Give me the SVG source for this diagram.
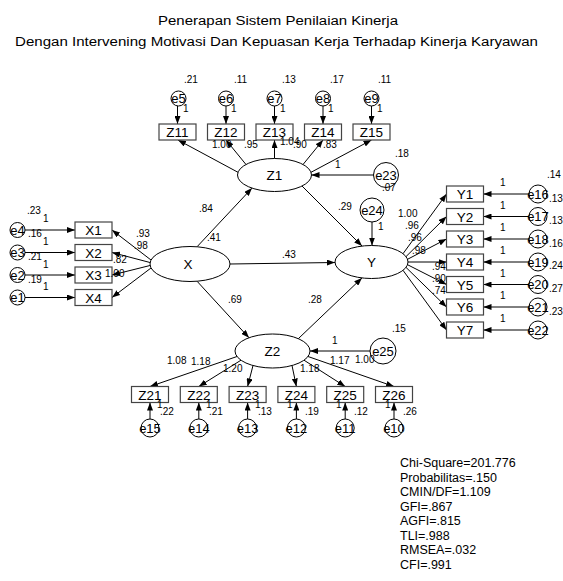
<svg xmlns="http://www.w3.org/2000/svg" width="563" height="581" viewBox="0 0 563 581">
<defs>
<marker id="ah" viewBox="0 0 8 6" refX="8" refY="3" markerWidth="8" markerHeight="6" markerUnits="userSpaceOnUse" orient="auto"><path d="M0,0 L8,3 L0,6 z" fill="#000"/></marker>
</defs>
<style>
text{font-family:"Liberation Sans",Arial,sans-serif;fill:#000}
.t{font-size:12.5px;text-anchor:middle}
.n{font-size:13.5px;text-anchor:middle}
.e{font-size:13px;text-anchor:middle}
.v{font-size:10px}
.s{font-size:12.5px}
.box{fill:#fff;stroke:#444;stroke-width:1.2}
.ell{fill:#fff;stroke:#000;stroke-width:1}
.err{fill:none;stroke:#000;stroke-width:1}
#connectors line{stroke:#000;stroke-width:1;marker-end:url(#ah)}
</style>
<rect width="563" height="581" fill="#fff"/>
<g id="title">
<text class="t" x="278" y="25" textLength="240" lengthAdjust="spacingAndGlyphs">Penerapan Sistem Penilaian Kinerja</text>
<text class="t" x="276.5" y="46" textLength="523" lengthAdjust="spacingAndGlyphs">Dengan Intervening Motivasi Dan Kepuasan Kerja Terhadap Kinerja Karyawan</text>
</g>
<g id="connectors">
<line x1="197" y1="246.8" x2="252" y2="188.1"/>
<line x1="230" y1="264" x2="335" y2="262.5"/>
<line x1="197" y1="281.2" x2="249" y2="337.8"/>
<line x1="302" y1="186" x2="362" y2="246"/>
<line x1="298.3" y1="338.7" x2="362" y2="277.9"/>
<line x1="373.5" y1="175" x2="311.5" y2="175"/>
<line x1="372" y1="222" x2="372" y2="245.5"/>
<line x1="370" y1="351" x2="310" y2="351"/>
<line x1="238" y1="172.3" x2="178" y2="140"/>
<line x1="246" y1="164.5" x2="226" y2="140"/>
<line x1="274.5" y1="158.5" x2="274.5" y2="140"/>
<line x1="303" y1="164.5" x2="323" y2="140"/>
<line x1="311" y1="172.3" x2="371.5" y2="140"/>
<line x1="177.5" y1="106" x2="177.5" y2="124"/>
<line x1="226" y1="106" x2="226" y2="124"/>
<line x1="274.5" y1="106" x2="274.5" y2="124"/>
<line x1="323" y1="106" x2="323" y2="124"/>
<line x1="371.5" y1="106" x2="371.5" y2="124"/>
<line x1="151" y1="260" x2="112" y2="230"/>
<line x1="150" y1="262.5" x2="112" y2="252.5"/>
<line x1="150" y1="265.5" x2="112" y2="275"/>
<line x1="151" y1="268" x2="112" y2="297.5"/>
<line x1="25" y1="230" x2="75" y2="230"/>
<line x1="25" y1="252.5" x2="75" y2="252.5"/>
<line x1="25" y1="275" x2="75" y2="275"/>
<line x1="25" y1="297.5" x2="75" y2="297.5"/>
<line x1="403" y1="253.7" x2="446.5" y2="194"/>
<line x1="406" y1="256.6" x2="446.5" y2="216.5"/>
<line x1="407.5" y1="259.3" x2="446.5" y2="239"/>
<line x1="408" y1="262" x2="446.5" y2="262"/>
<line x1="407.5" y1="264.7" x2="446.5" y2="284.5"/>
<line x1="406" y1="267.4" x2="446.5" y2="307"/>
<line x1="403" y1="270.3" x2="446.5" y2="330"/>
<line x1="529" y1="194" x2="483.5" y2="194"/>
<line x1="529" y1="216.5" x2="483.5" y2="216.5"/>
<line x1="529" y1="239" x2="483.5" y2="239"/>
<line x1="529" y1="262" x2="483.5" y2="262"/>
<line x1="529" y1="284.5" x2="483.5" y2="284.5"/>
<line x1="529" y1="307" x2="483.5" y2="307"/>
<line x1="529" y1="330" x2="483.5" y2="330"/>
<line x1="237" y1="356.5" x2="150" y2="386.5"/>
<line x1="241" y1="360.2" x2="198.8" y2="386.5"/>
<line x1="253" y1="365.5" x2="247.6" y2="386.5"/>
<line x1="292" y1="365.5" x2="296.4" y2="386.5"/>
<line x1="304" y1="360.2" x2="345.2" y2="386.5"/>
<line x1="308" y1="356.5" x2="394" y2="386.5"/>
<line x1="150" y1="419" x2="150" y2="402.5"/>
<line x1="198.8" y1="419" x2="198.8" y2="402.5"/>
<line x1="247.6" y1="419" x2="247.6" y2="402.5"/>
<line x1="296.4" y1="419" x2="296.4" y2="402.5"/>
<line x1="345.2" y1="419" x2="345.2" y2="402.5"/>
<line x1="394" y1="419" x2="394" y2="402.5"/>
</g>
<g id="X"><ellipse class="ell" cx="190" cy="264" rx="40" ry="17.5"/><text class="n" x="188" y="269">X</text></g>
<g id="Z1"><ellipse class="ell" cx="274.5" cy="175" rx="37" ry="16.5"/><text class="n" x="274.5" y="180">Z1</text></g>
<g id="Z2"><ellipse class="ell" cx="272.5" cy="351" rx="37.5" ry="17"/><text class="n" x="272.5" y="356">Z2</text></g>
<g id="Y"><ellipse class="ell" cx="371.5" cy="262" rx="36.5" ry="16.5"/><text class="n" x="371.5" y="267">Y</text></g>
<g id="Z11"><rect class="box" x="159" y="124" width="37" height="16"/><text class="n" x="177.5" y="137">Z11</text></g>
<g id="Z12"><rect class="box" x="207.5" y="124" width="37" height="16"/><text class="n" x="226" y="137">Z12</text></g>
<g id="Z13"><rect class="box" x="256" y="124" width="37" height="16"/><text class="n" x="274.5" y="137">Z13</text></g>
<g id="Z14"><rect class="box" x="304.5" y="124" width="37" height="16"/><text class="n" x="323" y="137">Z14</text></g>
<g id="Z15"><rect class="box" x="353" y="124" width="37" height="16"/><text class="n" x="371.5" y="137">Z15</text></g>
<g id="X1"><rect class="box" x="75" y="222" width="37" height="16"/><text class="n" x="93.5" y="235">X1</text></g>
<g id="X2"><rect class="box" x="75" y="244.5" width="37" height="16"/><text class="n" x="93.5" y="257.5">X2</text></g>
<g id="X3"><rect class="box" x="75" y="267" width="37" height="16"/><text class="n" x="93.5" y="280">X3</text></g>
<g id="X4"><rect class="box" x="75" y="289.5" width="37" height="16"/><text class="n" x="93.5" y="302.5">X4</text></g>
<g id="Y1"><rect class="box" x="446.5" y="186" width="37" height="16"/><text class="n" x="465" y="199">Y1</text></g>
<g id="Y2"><rect class="box" x="446.5" y="208.5" width="37" height="16"/><text class="n" x="465" y="221.5">Y2</text></g>
<g id="Y3"><rect class="box" x="446.5" y="231" width="37" height="16"/><text class="n" x="465" y="244">Y3</text></g>
<g id="Y4"><rect class="box" x="446.5" y="254" width="37" height="16"/><text class="n" x="465" y="267">Y4</text></g>
<g id="Y5"><rect class="box" x="446.5" y="276.5" width="37" height="16"/><text class="n" x="465" y="289.5">Y5</text></g>
<g id="Y6"><rect class="box" x="446.5" y="299" width="37" height="16"/><text class="n" x="465" y="312">Y6</text></g>
<g id="Y7"><rect class="box" x="446.5" y="322" width="37" height="16"/><text class="n" x="465" y="335">Y7</text></g>
<g id="Z21"><rect class="box" x="131.5" y="386.5" width="37" height="16"/><text class="n" x="150" y="399.5">Z21</text></g>
<g id="Z22"><rect class="box" x="180.3" y="386.5" width="37" height="16"/><text class="n" x="198.8" y="399.5">Z22</text></g>
<g id="Z23"><rect class="box" x="229.1" y="386.5" width="37" height="16"/><text class="n" x="247.6" y="399.5">Z23</text></g>
<g id="Z24"><rect class="box" x="277.9" y="386.5" width="37" height="16"/><text class="n" x="296.4" y="399.5">Z24</text></g>
<g id="Z25"><rect class="box" x="326.7" y="386.5" width="37" height="16"/><text class="n" x="345.2" y="399.5">Z25</text></g>
<g id="Z26"><rect class="box" x="375.5" y="386.5" width="37" height="16"/><text class="n" x="394" y="399.5">Z26</text></g>
<g id="e5"><circle class="err" cx="178.5" cy="98.5" r="7.5"/><text class="e" x="178.5" y="103">e5</text></g>
<g id="e6"><circle class="err" cx="226" cy="98.5" r="7.5"/><text class="e" x="226" y="103">e6</text></g>
<g id="e7"><circle class="err" cx="274.5" cy="98.5" r="7.5"/><text class="e" x="274.5" y="103">e7</text></g>
<g id="e8"><circle class="err" cx="323" cy="98.5" r="7.5"/><text class="e" x="323" y="103">e8</text></g>
<g id="e9"><circle class="err" cx="371.5" cy="98.5" r="7.5"/><text class="e" x="371.5" y="103">e9</text></g>
<g id="e4"><circle class="err" cx="17.5" cy="230" r="7.5"/><text class="e" x="17.5" y="234.5">e4</text></g>
<g id="e3"><circle class="err" cx="17.5" cy="252.5" r="7.5"/><text class="e" x="17.5" y="257">e3</text></g>
<g id="e2"><circle class="err" cx="17.5" cy="275" r="7.5"/><text class="e" x="17.5" y="279.5">e2</text></g>
<g id="e1"><circle class="err" cx="17.5" cy="297.5" r="7.5"/><text class="e" x="17.5" y="302">e1</text></g>
<g id="e16"><circle class="err" cx="538" cy="194" r="9"/><text class="e" x="538" y="198.5">e16</text></g>
<g id="e17"><circle class="err" cx="538" cy="216.5" r="9"/><text class="e" x="538" y="221">e17</text></g>
<g id="e18"><circle class="err" cx="538" cy="239" r="9"/><text class="e" x="538" y="243.5">e18</text></g>
<g id="e19"><circle class="err" cx="538" cy="262" r="9"/><text class="e" x="538" y="266.5">e19</text></g>
<g id="e20"><circle class="err" cx="538" cy="284.5" r="9"/><text class="e" x="538" y="289">e20</text></g>
<g id="e21"><circle class="err" cx="538" cy="307" r="9"/><text class="e" x="538" y="311.5">e21</text></g>
<g id="e22"><circle class="err" cx="538" cy="330" r="9"/><text class="e" x="538" y="334.5">e22</text></g>
<g id="e15"><circle class="err" cx="150" cy="428" r="9"/><text class="e" x="150" y="432.5">e15</text></g>
<g id="e14"><circle class="err" cx="198.8" cy="428" r="9"/><text class="e" x="198.8" y="432.5">e14</text></g>
<g id="e13"><circle class="err" cx="247.6" cy="428" r="9"/><text class="e" x="247.6" y="432.5">e13</text></g>
<g id="e12"><circle class="err" cx="296.4" cy="428" r="9"/><text class="e" x="296.4" y="432.5">e12</text></g>
<g id="e11"><circle class="err" cx="345.2" cy="428" r="9"/><text class="e" x="345.2" y="432.5">e11</text></g>
<g id="e10"><circle class="err" cx="394" cy="428" r="9"/><text class="e" x="394" y="432.5">e10</text></g>
<g id="e23"><circle class="err" cx="386" cy="175" r="12.5"/><text class="e" x="386" y="179.5">e23</text></g>
<g id="e24"><circle class="err" cx="372" cy="210" r="12"/><text class="e" x="372" y="214.5">e24</text></g>
<g id="e25"><circle class="err" cx="383" cy="351" r="13"/><text class="e" x="383" y="355.5">e25</text></g>
<g id="labels">
<text class="v" x="184" y="83">.21</text><text class="v" x="234" y="83">.11</text><text class="v" x="282" y="83">.13</text><text class="v" x="330" y="83">.17</text><text class="v" x="378" y="83">.11</text>
<text class="v" x="183" y="112">1</text><text class="v" x="231" y="112">1</text><text class="v" x="280" y="112">1</text><text class="v" x="328" y="112">1</text><text class="v" x="377" y="112">1</text>
<text class="v" x="212" y="148">1.00</text><text class="v" x="244" y="148">.95</text><text class="v" x="280" y="145">1.04</text><text class="v" x="293" y="148">.90</text><text class="v" x="323" y="148">.83</text>
<text class="v" x="335" y="168">1</text><text class="v" x="395" y="157">.18</text><text class="v" x="382" y="191">.07</text>
<text class="v" x="338" y="210">.29</text><text class="v" x="378" y="230">1</text>
<text class="v" x="27" y="214">.23</text><text class="v" x="43" y="222">1</text>
<text class="v" x="28" y="237">.16</text><text class="v" x="43" y="245">1</text>
<text class="v" x="28" y="260">.21</text><text class="v" x="43" y="268">1</text>
<text class="v" x="28" y="283">.19</text><text class="v" x="43" y="290">1</text>
<text class="v" x="136" y="237">.93</text><text class="v" x="134" y="249">.98</text><text class="v" x="113" y="263">.82</text><text class="v" x="105" y="277">1.00</text>
<text class="v" x="199" y="212">.84</text><text class="v" x="207" y="241">.41</text>
<text class="v" x="282" y="257.5">.43</text><text class="v" x="228" y="303">.69</text><text class="v" x="308" y="302.5">.28</text>
<text class="v" x="398" y="217">1.00</text><text class="v" x="405" y="228.5">.96</text><text class="v" x="408" y="240.5">.96</text><text class="v" x="412" y="254">.98</text><text class="v" x="432" y="269.5">.94</text><text class="v" x="432" y="281.5">.90</text><text class="v" x="432" y="294">.74</text>
<text class="v" x="500" y="186">1</text><text class="v" x="500" y="208.5">1</text><text class="v" x="500" y="231">1</text><text class="v" x="500" y="254">1</text><text class="v" x="500" y="276.5">1</text><text class="v" x="500" y="299">1</text><text class="v" x="500" y="322">1</text>
<text class="v" x="547" y="178">.14</text><text class="v" x="549" y="201.5">.13</text><text class="v" x="549" y="224">.13</text><text class="v" x="549" y="246.5">.16</text><text class="v" x="549" y="269">.24</text><text class="v" x="549" y="292">.27</text><text class="v" x="549" y="314.5">.23</text>
<text class="v" x="332" y="344">1</text><text class="v" x="392" y="332">.15</text>
<text class="v" x="167" y="363.5">1.08</text><text class="v" x="191" y="365">1.18</text><text class="v" x="223" y="371.5">1.20</text><text class="v" x="300" y="371.5">1.18</text><text class="v" x="330" y="364">1.17</text><text class="v" x="355" y="363">1.00</text>
<text class="v" x="157" y="408">1</text><text class="v" x="206" y="408">1</text><text class="v" x="255" y="408">1</text><text class="v" x="287" y="408">1</text><text class="v" x="336" y="408">1</text><text class="v" x="385" y="408">1</text>
<text class="v" x="160" y="415">.22</text><text class="v" x="209" y="415">.21</text><text class="v" x="258" y="415">.13</text><text class="v" x="305" y="415">.19</text><text class="v" x="354" y="415">.12</text><text class="v" x="403" y="415">.26</text>
</g>
<g id="fit">
<text class="s" x="400" y="467">Chi-Square=201.776</text>
<text class="s" x="400" y="481.5">Probabilitas=.150</text>
<text class="s" x="400" y="496">CMIN/DF=1.109</text>
<text class="s" x="400" y="510.5">GFI=.867</text>
<text class="s" x="400" y="525">AGFI=.815</text>
<text class="s" x="400" y="539.5">TLI=.988</text>
<text class="s" x="400" y="554">RMSEA=.032</text>
<text class="s" x="400" y="568.5">CFI=.991</text>
</g>
</svg>
